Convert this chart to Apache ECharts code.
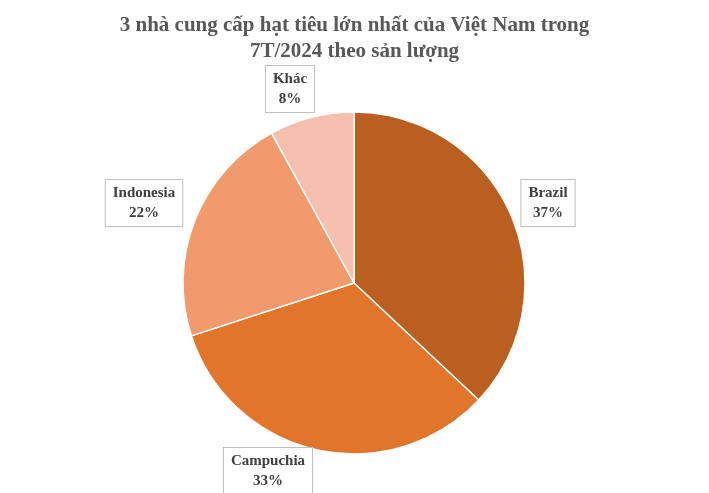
<!DOCTYPE html>
<html>
<head>
<meta charset="utf-8">
<script src="https://cdn.jsdelivr.net/npm/echarts@6/dist/echarts.min.js"></script>
<style>html,body{margin:0;padding:0;background:#fff}#c{width:709px;height:493px}</style>
</head>
<body>
<div id="c"></div>
<script>
const countries = ['Brazil', 'Campuchia', 'Indonesia', 'Khác'];
const shares = [37, 33, 22, 8];
const colors = ['#BA5F20', '#E0752B', '#F09A6E', '#F5C0AD'];
// label box centres, per slice
const labelPos = [[548, 203], [268, 471], [144, 203], [290, 89]];

const chart = echarts.init(document.getElementById('c'));
chart.setOption({
  animation: false,
  title: {
    text: '3 nhà cung cấp hạt tiêu lớn nhất của Việt Nam trong\n7T/2024 theo sản lượng',
    left: 'center', top: 8,
    textStyle: { fontFamily: 'Liberation Serif', fontSize: 21, fontWeight: 'bold', color: '#595959', lineHeight: 26 }
  },
  series: [{
    type: 'pie',
    center: [354, 283],
    radius: 171,
    startAngle: 90,
    clockwise: true,
    itemStyle: { borderColor: '#fff', borderWidth: 1.5 },
    label: {
      formatter: '{b}\n{c}%',
      fontFamily: 'Liberation Serif', fontSize: 15, fontWeight: 'bold', color: '#404040',
      lineHeight: 20, align: 'center',
      backgroundColor: '#fff', borderColor: '#bfbfbf', borderWidth: 1,
      padding: [3, 7]
    },
    labelLine: { show: false },
    labelLayout: p => ({ x: labelPos[p.dataIndex][0], y: labelPos[p.dataIndex][1], align: 'center', verticalAlign: 'middle' }),
    data: countries.map((n, i) => ({ name: n, value: shares[i], itemStyle: { color: colors[i] } }))
  }]
});
</script>
</body>
</html>
